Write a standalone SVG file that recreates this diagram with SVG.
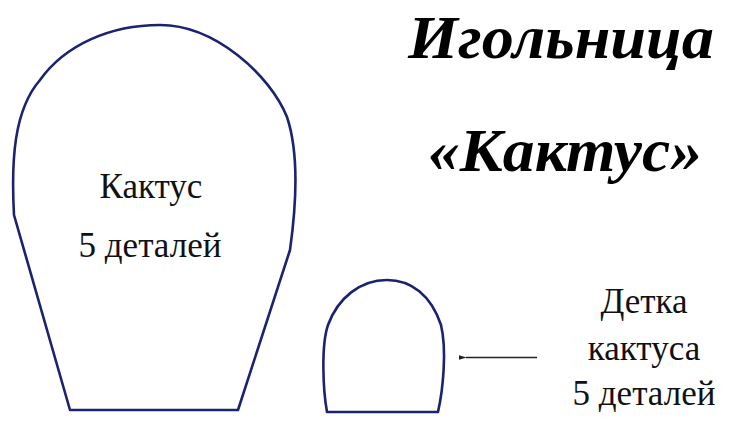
<svg xmlns="http://www.w3.org/2000/svg" width="730" height="428" viewBox="0 0 730 428">
<defs>
<style>
.shape{fill:none;stroke:#1c2270;stroke-width:2.6;stroke-linejoin:round}
.lbl{font-family:"Liberation Serif","Times New Roman",serif;font-size:35px;fill:#111;text-anchor:middle}
.title{font-family:"Liberation Serif","Times New Roman",serif;font-size:62px;font-weight:bold;font-style:italic;fill:#000;text-anchor:middle}
</style>
<marker id="ah" viewBox="0 0 10 10" refX="1" refY="5" markerWidth="6" markerHeight="6" orient="auto-start-reverse">
<path d="M10,2 L0,5 L10,8 Z" fill="#222"/>
</marker>
</defs>
<rect width="730" height="428" fill="#fff"/>
<g id="title">
<text class="title" x="561" y="58" textLength="306" lengthAdjust="spacingAndGlyphs">Игольница</text>
<text class="title" x="565" y="171" textLength="274" lengthAdjust="spacingAndGlyphs">«Кактус»</text>
</g>
<g id="cactus">
<path class="shape" d="M70,410 L238,410 L290,250 C297,200 298,150 287,117 C270,75 215,25 160,25 C110,25 65,45 40,80 C14,110 11,160 14,215 Z"/>
<text class="lbl" x="151" y="198">Кактус</text>
<text class="lbl" x="150" y="257">5 деталей</text>
</g>
<g id="baby">
<path class="shape" d="M327,412 L438,412 C443,390 447,350 441,325 C431,295 411,280 387,280 C360,280 338,298 328,325 C321,345 323,390 327,412 Z"/>
</g>
<g id="baby-label">
<text class="lbl" x="644" y="313">Детка</text>
<text class="lbl" x="644" y="360">кактуса</text>
<text class="lbl" x="644" y="405">5 деталей</text>
</g>
<g id="connectors">
<line x1="537" y1="357.5" x2="466" y2="357.5" stroke="#222" stroke-width="1.3" marker-end="url(#ah)"/>
</g>
</svg>
